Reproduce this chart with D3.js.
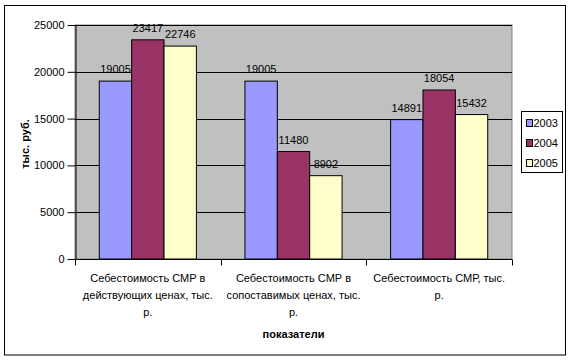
<!DOCTYPE html>
<html><head><meta charset="utf-8">
<script src="https://cdn.jsdelivr.net/npm/d3@7"></script>
<style>
html,body{margin:0;padding:0;background:#fff;}
text{font-family:"Liberation Sans",Arial,sans-serif;}
</style></head>
<body>
<svg id="c" width="572" height="361"></svg>
<script>
const categories = ["cat1","cat2","cat3"];
const categoryLabelLines = [
  ["Себестоимость СМР в","действующих ценах, тыс.","р."],
  ["Себестоимость СМР в","сопоставимых ценах, тыс.","р."],
  ["Себестоимость СМР, тыс.","р."]
];
const seriesNames = ["2003","2004","2005"];
const values2003 = [19005, 19005, 14891];
const values2004 = [23417, 11480, 18054];
const values2005 = [22746, 8902, 15432];
const yTicks = [0,5000,10000,15000,20000,25000];
const colors = ["#9999FF","#993366","#FFFFCC"];
const yTitle = "тыс. руб.";
const xTitle = "показатели";

const FS = "11px";
const series = [values2003, values2004, values2005];
const svg = d3.select("#c");

// outer border
svg.append("rect").attr("x",4.5).attr("y",5.5).attr("width",561).attr("height",349.5)
  .attr("fill","#fff").attr("stroke","#000").attr("stroke-width",1);

const L=75, R=512, T=25, B=259;
const x0 = d3.scaleBand().domain(categories).range([L,R]).paddingInner(0).paddingOuter(0);
const x1 = d3.scaleBand().domain(seriesNames).range([0,x0.bandwidth()]).paddingInner(0).paddingOuter(0.75);
const y = d3.scaleLinear().domain([0,25000]).range([B,T]);

svg.append("rect").attr("x",L).attr("y",T).attr("width",R-L).attr("height",B-T)
  .attr("fill","#C0C0C0").attr("stroke","#808080").attr("stroke-width",1);

// gridlines
svg.append("g").selectAll("line").data(yTicks.filter(d=>d>0)).join("line")
  .attr("x1",L).attr("x2",R).attr("y1",d=>Math.round(y(d))+0.5).attr("y2",d=>Math.round(y(d))+0.5)
  .attr("stroke","#000").attr("stroke-width",1);

// bars
const g = svg.append("g");
categories.forEach((c,ci)=>{
  seriesNames.forEach((s,si)=>{
    const v = series[si][ci];
    const bx = x0(c)+x1(s);
    g.append("rect").attr("x",bx).attr("y",y(v)).attr("width",x1.bandwidth()).attr("height",B-y(v))
      .attr("fill",colors[si]).attr("stroke","#000").attr("stroke-width",1);
    g.append("text").attr("x",bx+x1.bandwidth()/2).attr("y",y(v)-8)
      .attr("text-anchor","middle").attr("font-size",FS).attr("fill","#000").text(v);
  });
});

// y axis
const yAxis = d3.axisLeft(y).tickValues(yTicks).tickFormat(d3.format("d")).tickSize(8).tickPadding(3).tickSizeOuter(0);
const ya = svg.append("g").attr("transform",`translate(${L+0.5},0)`).call(yAxis);
ya.select(".domain").attr("stroke","#000");
ya.selectAll(".tick line").attr("stroke","#000");
ya.selectAll(".tick text").attr("font-size",FS).attr("fill","#000").attr("font-family","Liberation Sans, Arial, sans-serif");

// x axis
const xa = svg.append("g").attr("transform",`translate(0,${B+0.5})`);
xa.append("line").attr("x1",L).attr("x2",R).attr("y1",0).attr("y2",0).attr("stroke","#000");
const xTickPos = [L, ...categories.map(c=>x0(c)+x0.bandwidth())];
xa.selectAll("line.t").data(xTickPos).join("line").attr("class","t")
  .attr("x1",d=>Math.round(d)+0.5).attr("x2",d=>Math.round(d)+0.5).attr("y1",0).attr("y2",6).attr("stroke","#000");

categories.forEach((c,ci)=>{
  const cx = x0(c)+x0.bandwidth()/2;
  const t = svg.append("text").attr("text-anchor","middle").attr("font-size",FS).attr("fill","#000");
  categoryLabelLines[ci].forEach((ln,li)=>{
    t.append("tspan").attr("x",cx).attr("y",282+li*17).text(ln);
  });
});

svg.append("text").attr("x",(L+R)/2).attr("y",338).attr("text-anchor","middle")
  .attr("font-size",FS).attr("font-weight","bold").text(xTitle);
svg.append("text").attr("transform",`translate(29,${(T+B)/2+2}) rotate(-90)`).attr("text-anchor","middle")
  .attr("font-size",FS).attr("font-weight","bold").text(yTitle);

// legend
const lg = svg.append("g");
lg.append("rect").attr("x",521.5).attr("y",111.5).attr("width",41).attr("height",61)
  .attr("fill","#fff").attr("stroke","#000");
seriesNames.forEach((s,i)=>{
  const cy = 123+i*20;
  lg.append("rect").attr("x",526.5).attr("y",cy-3.5).attr("width",6).attr("height",7)
    .attr("fill",colors[i]).attr("stroke","#000");
  lg.append("text").attr("x",533.5).attr("y",cy+4).attr("font-size",FS).text(s);
});
</script>
</body></html>
